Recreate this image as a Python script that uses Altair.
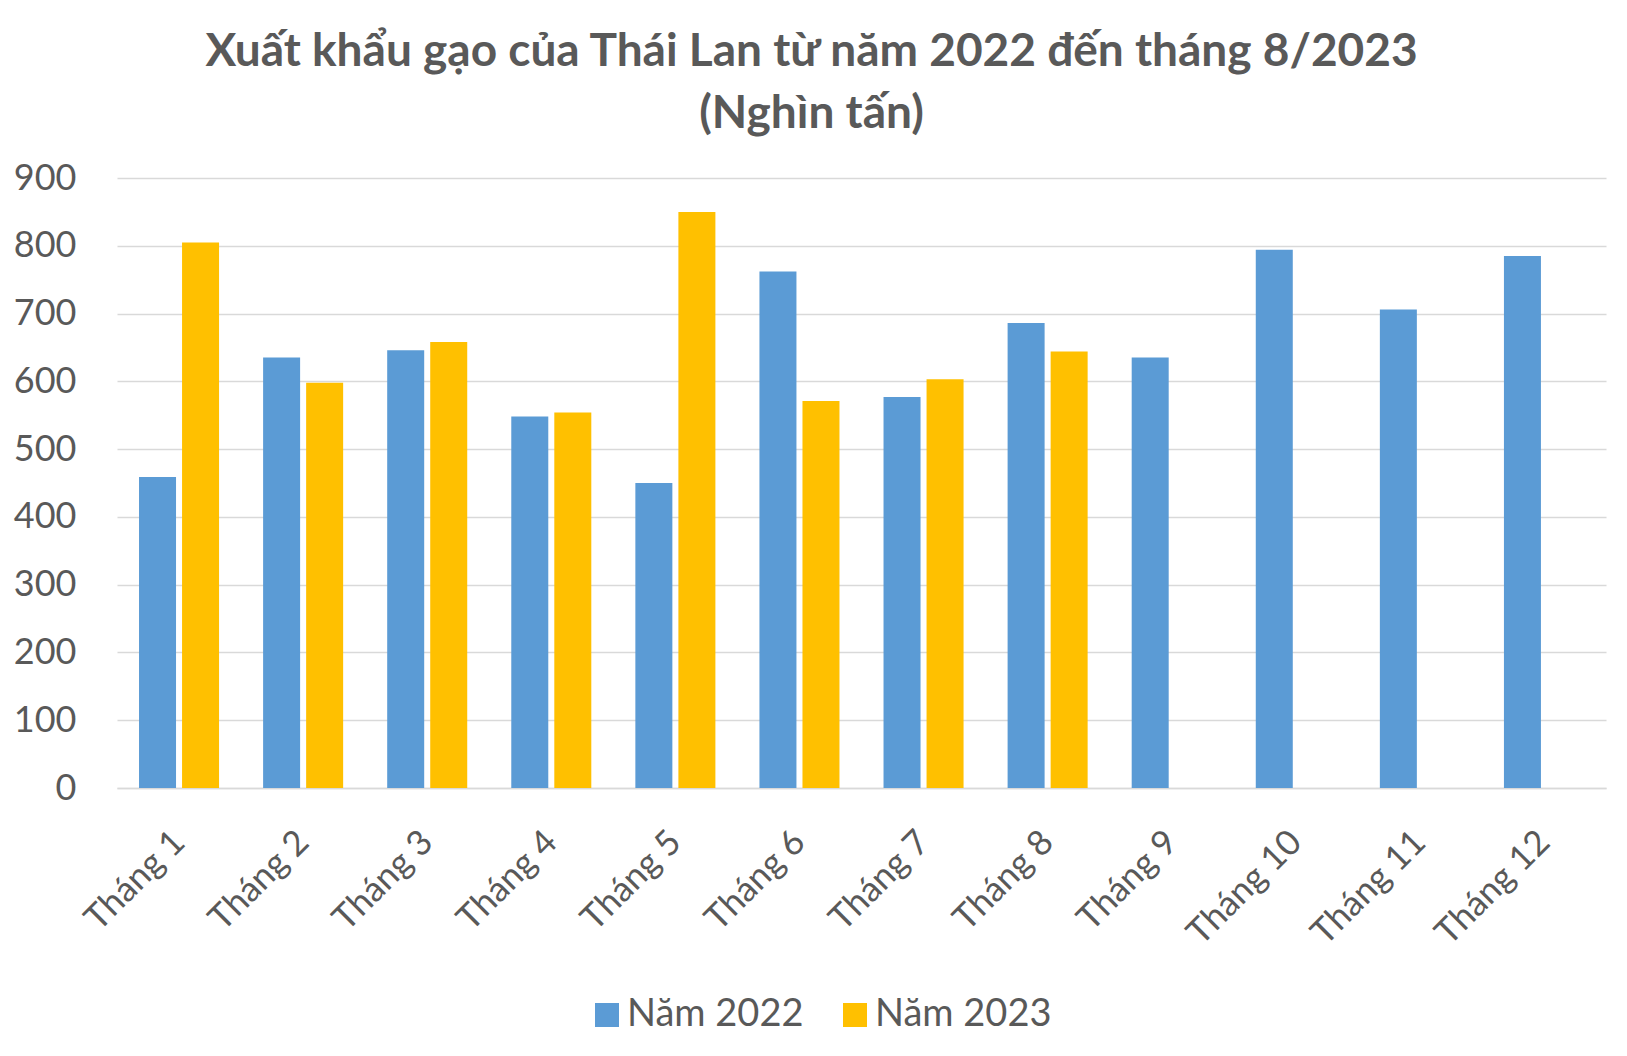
import altair as alt
import pandas as pd

months = [f"Tháng {i}" for i in range(1, 13)]
series = ["Năm 2022", "Năm 2023"]
values_2022 = [459, 635, 646, 548, 450, 762, 577, 686, 635, 794, 706, 785]
values_2023 = [805, 598, 658, 554, 850, 571, 603, 644]
y_ticks = [0, 100, 200, 300, 400, 500, 600, 700, 800, 900]
colors = ["#5B9BD5", "#FFC000"]

rows = []
for m, v in zip(months, values_2022):
    rows.append({"Tháng": m, "Năm": series[0], "Giá trị": v})
for m, v in zip(months, values_2023):
    rows.append({"Tháng": m, "Năm": series[1], "Giá trị": v})
df = pd.DataFrame(rows)

FONT = "Lato"
GRAY = "#595959"

chart = alt.Chart(df).mark_bar().encode(
    x=alt.X(
        "Tháng:N",
        sort=months,
        scale=alt.Scale(paddingInner=0.355, paddingOuter=0.1775),
        axis=alt.Axis(
            title=None, labelAngle=-45, labelFontSize=35, labelColor=GRAY,
            labelFont=FONT, ticks=False, domainColor="#d9d9d9", domainWidth=1.5,
            labelPadding=48, grid=False, labelBaseline="middle", labelAlign="right",
        ),
    ),
    xOffset=alt.XOffset("Năm:N", sort=series,
                        scale=alt.Scale(domain=series, paddingInner=0.14, paddingOuter=0)),
    y=alt.Y(
        "Giá trị:Q",
        scale=alt.Scale(domain=[0, 900], nice=False),
        axis=alt.Axis(
            values=y_ticks, title=None, labelFontSize=36, labelColor=GRAY,
            labelFont=FONT, ticks=False, domain=False, gridColor="#d9d9d9",
            gridWidth=1.5, labelPadding=41,
        ),
    ),
    color=alt.Color(
        "Năm:N",
        scale=alt.Scale(domain=series, range=colors),
        legend=alt.Legend(
            title=None, orient="none", legendX=471, legendY=818,
            direction="horizontal", symbolType="square", symbolSize=576,
            symbolStrokeWidth=0, labelFontSize=38, labelFont=FONT, labelColor=GRAY,
            labelOffset=1, columnPadding=32, labelLimit=0,
        ),
    ),
).properties(
    width=1489,
    height=610,
    autosize="none",
    background="white",
    padding={"left": 117, "top": 178, "right": 21, "bottom": 268},
    title=alt.Title(
        ["Xuất khẩu gạo của Thái Lan từ năm 2022 đến tháng 8/2023", "(Nghìn tấn)"],
        fontSize=46, font=FONT, fontWeight="bold", color=GRAY,
        anchor="middle", dx=-50, offset=22, lineHeight=62,
    ),
).configure_view(stroke=None)

chart.save("out.html", embed_options={"renderer": "svg", "actions": False})
